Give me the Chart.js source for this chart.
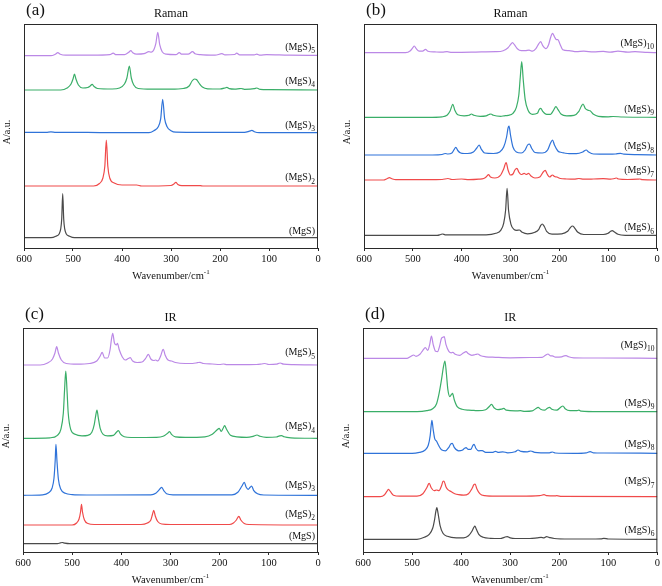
<!DOCTYPE html>
<html>
<head>
<meta charset="utf-8">
<script src="https://cdn.jsdelivr.net/npm/chart.js@4.4.1/dist/chart.umd.min.js"></script>
<style>
  body { margin: 0; background: #fff; width: 662px; height: 586px; position: relative; overflow: hidden; }
  canvas { position: absolute; }
</style>
</head>
<body>
<canvas id="pa" width="331" height="293" style="left:0;top:0"></canvas>
<canvas id="pb" width="331" height="293" style="left:331px;top:0"></canvas>
<canvas id="pc" width="331" height="293" style="left:0;top:293px"></canvas>
<canvas id="pd" width="331" height="293" style="left:331px;top:293px"></canvas>
<script>
// x ticks (wavenumber, cm-1) and cluster sizes
const xTicks = [600, 500, 400, 300, 200, 100, 0];
const clusterSizes = [1, 2, 3, 4, 5, 6, 7, 8, 9, 10];

// vertical stacking offset of each spectrum (a.u.), index = size - 1
const ramanOffsets = [10.3, 62, 115.3, 158, 192.3, 12.7, 68, 93, 130.7, 195.3];
const irOffsets = [8.3, 27, 56.7, 113.7, 187, 12.7, 55.3, 98.7, 140.3, 193.7];

// Raman spectra: [wavenumber, intensity]
const ramanMgS1 = [[600,0],[545,0],[535,1.5],[528,4],[525,9],[523,19],[521,44],[519,19],[517,9],[514,4],[507,1.5],[497,0],[0,0]];
const ramanMgS2 = [[600,0],[458,0],[446,2.5],[439,8],[435,20],[432,46],[429,20],[425,8],[416,3],[400,1],[370,1],[360,0],[300,0.5],[294,2],[290,3.7],[286,1.5],[278,0.3],[240,0.3],[235,0],[0,0]];
const ramanMgS3 = [[600,0.3],[555,0.3],[545,0.8],[535,0.3],[470,0.3],[420,0],[345,0],[335,2],[326,6],[321,14],[317,33.4],[313,14],[308,6],[300,2],[290,0.5],[240,0.3],[150,0.3],[140,1.5],[135,2.3],[130,1],[120,0],[0,0]];
const ramanMgS4 = [[600,0],[525,0],[512,2],[504,6],[500,11],[497,16],[494,11],[489,5],[480,2],[470,2.5],[465,4],[461,5.7],[457,3.5],[450,1.5],[420,1],[405,2],[395,6],[390,12],[385,24],[381,12],[376,5],[367,1.5],[340,0.8],[300,0.8],[275,1.5],[263,4],[257,9],[252,11],[248,10.5],[243,7],[236,3],[225,1.2],[200,1],[190,2],[186,2.7],[181,1.3],[170,0.8],[160,1.4],[157,1.5],[150,0.7],[130,1.3],[125,2],[118,0.6],[100,0.3],[0,0]];
const ramanMgS5 = [[600,0],[545,0],[536,1.5],[531,3],[526,1.5],[515,0.5],[460,0.5],[425,1],[418,2.5],[412,1],[395,1],[386,3.5],[382,5],[378,3],[370,1.5],[355,2],[345,4],[340,3.5],[335,6],[331,12],[327,23.4],[323,11],[318,4],[310,1.5],[290,1],[283,3],[278,1.5],[265,1.5],[256,4],[251,2],[240,1],[210,0.5],[196,2],[190,0.8],[170,1.2],[166,2.5],[160,0.8],[130,0.8],[125,1.5],[118,0.5],[105,1],[60,0.5],[0,0.3]];
const ramanMgS6 = [[600,0],[450,0],[443,0.8],[439,1.3],[434,0.5],[350,0.5],[330,2],[320,5],[314,12],[310,25],[307,47],[304,25],[299,11],[293,6],[287,5],[282,5.3],[276,3],[265,1.5],[250,3],[242,6],[238,10],[235,11.3],[231,9],[226,4],[215,1.2],[195,1.5],[183,4],[177,8],[173,9.3],[169,7.5],[162,3],[150,0.8],[110,0.8],[100,2],[95,4],[91.5,4.7],[88,3.5],[80,1],[65,0],[0,0]];
const ramanMgS7 = [[600,0],[560,0],[553,1.3],[548,2.3],[543,1.3],[535,0.3],[470,0.3],[440,0.5],[428,1.5],[420,0.5],[400,1],[385,0.3],[365,0.8],[355,1.5],[349,3.5],[345,5.3],[341,3],[332,2],[320,5],[314,11],[309,17.3],[305,10],[300,5],[295,6],[291,10],[287,11.7],[283,8],[278,5.5],[272,6.7],[268,5.5],[263,6.7],[258,4],[250,2],[240,3],[233,8],[229,9.7],[225,6],[220,3],[214,5],[210,3.5],[205,3],[198,1.5],[185,1],[170,0.8],[160,1.5],[150,0.8],[130,1],[110,1.3],[95,0.8],[87,1.5],[83,2],[79,1],[60,0.5],[40,0.8],[35,1],[30,0.3],[0,0]];
const ramanMgS8 = [[600,0],[460,0],[440,0.5],[434,1.5],[428,1],[420,2],[416,5],[412,7.7],[408,4.5],[402,2],[395,1.5],[388,1.5],[376,3],[369,7],[364,10],[360,6],[353,2],[335,1.5],[322,3],[314,8],[308,18],[305,27],[303,29],[300,20],[295,8],[288,3],[278,2],[270,5],[265,10],[261,11],[257,7],[250,2.5],[235,2],[224,5],[218,12],[214,15],[210,10],[203,4],[195,2.5],[190,2],[180,1.3],[165,1.3],[152,3],[145,5],[140,3],[130,1],[100,0.8],[85,1],[75,1.7],[68,0.8],[40,0.3],[0,0]];
const ramanMgS9 = [[600,0],[470,0],[440,0.5],[430,2],[424,6],[418,13],[414,7],[408,2.5],[395,1.5],[385,2],[380,3.3],[375,2],[362,1],[350,1.5],[344,2.8],[340,3.3],[335,2],[320,1],[313,1.5],[305,2],[295,4],[288,10],[283,22],[280,40],[277,55.6],[274,38],[270,18],[264,7],[255,3],[245,4],[241,8],[238,9],[234,6],[226,3],[218,3],[212,7],[207,10.7],[203,8],[196,3],[185,1.5],[170,2],[160,6],[155,11],[151.5,13.3],[147,9],[141,7],[137,6.5],[130,3],[120,1],[100,0.5],[90,0.8],[70,0.3],[0,0]];
const ramanMgS10 = [[600,0],[515,0],[505,2],[500,5],[497,6.7],[493,4],[487,1.5],[480,1.5],[474,3.3],[469,1.5],[455,0.8],[440,0.5],[430,1],[420,0.3],[380,0.5],[360,0.8],[330,1],[315,2],[305,5],[300,8],[296,10],[292,8],[286,4],[278,2],[270,2],[262,2.5],[255,1.5],[248,4],[242,9],[238,11],[234,7],[228,4],[222,8],[218,15],[214,19.3],[210,16],[206,13],[203,13],[199,9],[193,3],[180,2],[165,1],[150,1.5],[130,0.8],[110,1.3],[95,0.5],[80,1.5],[60,0.5],[45,1],[20,0.3],[0,0]];

// IR spectra: [wavenumber, absorbance]
const irMgS1 = [[600,0],[530,0],[524,0.8],[520,1.2],[515,0.5],[505,0],[0,0]];
const irMgS2 = [[600,0],[500,0],[491,2],[486,6],[483,13],[481,20.7],[479,13],[475,5],[468,1.5],[455,0.5],[360,0.5],[347,2],[340,5],[337,10],[334,14.7],[331,9],[326,3.5],[318,1],[300,0.5],[180,0.5],[172,2],[166,5],[161,8.7],[157,5],[150,1.5],[140,0.5],[0,0]];
const irMgS3 = [[600,0],[560,0.5],[548,2.5],[541,7],[537,17],[534.5,35],[533,51],[531,35],[528,16],[523,6],[514,2],[500,0.7],[470,0.3],[340,0.5],[330,2],[324,5],[318,8],[314,5],[308,1.5],[295,0.5],[175,0.5],[163,3],[155,9],[150,13],[146,8],[142,6],[138,8],[135,9.3],[131,5],[123,1.5],[110,0.3],[0,0]];
const irMgS4 = [[600,0],[545,0.5],[530,3],[523,9],[518,25],[515.5,48],[513,67.3],[510.5,48],[508,25],[503,9],[494,4],[480,2.5],[468,3],[460,6],[455,14],[452,23],[449.5,28.3],[447,21],[443,10],[437,4],[428,2.5],[416,3],[410,6],[406,7.7],[402,4.5],[394,1.5],[380,0.8],[330,1],[315,2],[306,5],[302,6.7],[298,4],[290,1.5],[270,1],[230,1.5],[215,4],[205,8.5],[201,10],[197,7],[193,10],[190,12.7],[186,9],[178,3],[165,1.5],[145,1],[132,2],[124,3.3],[118,2],[105,1],[85,1.3],[78,2.5],[74,2.7],[69,1.5],[55,0.5],[0,0]];
const irMgS5 = [[600,0],[565,0],[550,2],[540,6],[535,12],[531.5,18.3],[528,12],[522,5],[512,1.5],[490,0.8],[465,1.5],[450,4],[443,9],[439,12.7],[434,7],[428,7],[423,15],[420,26],[417.5,31.7],[414,22],[410,20],[408,21.7],[404,15],[398,8],[392,5],[386,6.5],[382,7.3],[377,4],[368,2.5],[358,3],[350,7],[345,10.7],[340,6],[334,4.5],[330,5],[326,4],[320,9],[316,15],[314.5,15.7],[311,10],[305,5],[298,4],[290,2.5],[270,1.5],[255,1.5],[245,2.3],[240,2.7],[233,1.5],[215,1],[200,0.5],[192,1],[185,0.3],[160,0.3],[125,0.5],[115,1],[108,1.5],[100,0.5],[85,0.8],[77,2],[70,0.8],[50,0.3],[0,0]];
const irMgS6 = [[600,0],[490,0],[475,2],[465,5],[458,11],[454,20],[451.5,28],[449.5,31.7],[447,26],[443,14],[437,6],[428,3],[410,1.5],[395,1.5],[385,3.5],[378,8],[374,12],[372,13.3],[369,10],[364,5],[355,2],[340,1],[320,0.8],[312,2],[306,2.7],[300,1.5],[290,0.8],[260,0.8],[245,1.5],[237,2],[231,1.5],[226,2.7],[221,2],[210,0.8],[180,0.3],[140,0.3],[115,0.5],[109,1],[100,0.3],[0,0]];
const irMgS7 = [[600,0],[565,0],[556,2],[551,5.5],[548,7.3],[544,5],[538,1.5],[525,0.5],[490,0.5],[478,3],[470,9],[466,13],[465,13.3],[461,9],[455,6],[450,6.7],[445,6],[440,11],[437,15.3],[435,15.7],[431,10],[427,7],[420,5],[413,3],[405,2],[395,1.5],[385,3],[378,8],[374,12],[371.5,12.7],[368,8],[362,3],[352,1],[330,0.5],[280,0.5],[240,1],[231,2],[225,1],[210,0.8],[205,1],[195,0.3],[0,0]];
const irMgS8 = [[600,0],[500,0],[485,1],[474,3],[467,8],[463,18],[461,28],[459.5,33],[457,24],[454,15],[450,12],[446,8],[440,3.5],[432,2.5],[425,6],[421,9.5],[418,10],[414,6],[405,2.5],[398,3],[393,5],[390,5.7],[386,4],[380,4],[376,8],[373.5,9],[370,5],[364,2.5],[357,2.7],[350,1],[335,1],[330,2],[325,1],[315,1.5],[305,0.5],[290,1.5],[284,3.3],[278,2],[265,1.5],[258,2.3],[250,1],[220,0.5],[214,1.3],[208,0.3],[170,0],[145,0.5],[137,1.7],[130,0.5],[110,0.3],[0,0]];
const irMgS9 = [[600,0],[490,0],[470,1],[458,3],[450,8],[445,18],[440,32],[436,45],[433,50.7],[430,38],[427,22],[423,15],[420,17],[417.5,18.3],[414,12],[408,5],[398,2.5],[385,1.5],[374,1.3],[365,1],[350,2],[342,5.5],[338,7.3],[333,4],[325,2],[318,2.5],[313,3.3],[308,1.5],[290,0.8],[279,1],[270,0.3],[255,0.8],[248,3],[243,4.3],[238,2.5],[230,1.5],[224,3.5],[220,4.3],[215,2.5],[205,1.5],[197,4.5],[192.5,5.7],[188,3],[178,1],[165,1],[160,1.5],[155,0.5],[120,0],[0,0]];
const irMgS10 = [[600,0],[510,0],[502,2],[497,3.3],[492,2],[484,4],[478,8],[473,10.7],[468,8],[464,14],[460.5,22.3],[457,14],[452,7],[448,6.7],[444,12],[440,20],[437,21],[434.5,21.7],[431,14],[425,7],[420,5.5],[417,6],[412,4],[403,3],[395,5.5],[390,6.7],[385,4.5],[378,3],[371,3.8],[366,4.3],[360,2.5],[350,1.5],[330,1],[300,0.5],[260,0.8],[235,1],[228,3],[223,4.3],[218,2.5],[214,2.5],[208,1.2],[195,1.5],[190,2.5],[186,2.7],[181,1.5],[170,0.5],[120,0.3],[0,0]];

const ramanSpectra = [ramanMgS1, ramanMgS2, ramanMgS3, ramanMgS4, ramanMgS5, ramanMgS6, ramanMgS7, ramanMgS8, ramanMgS9, ramanMgS10];
const irSpectra = [irMgS1, irMgS2, irMgS3, irMgS4, irMgS5, irMgS6, irMgS7, irMgS8, irMgS9, irMgS10];

const lineColors = ["#4a4a4a", "#f04a4a", "#2f73d9", "#3aae68", "#bb88e6"];
const serif = "'Liberation Serif', 'Times New Roman', serif";

const panels = [
  { id: "pa", letter: "(a)", title: "Raman", sizes: clusterSizes.slice(0, 5), spectra: ramanSpectra, offsets: ramanOffsets,
    lifts: [6, 8.3, 7.7, 9, 8.7], pad: { left: 24, right: 13, top: 24 }, axisH: 45 },
  { id: "pb", letter: "(b)", title: "Raman", sizes: clusterSizes.slice(5), spectra: ramanSpectra, offsets: ramanOffsets,
    lifts: [7.6, 9.3, 8.3, 8.3, 9.7], pad: { left: 33, right: 5, top: 24 }, axisH: 45 },
  { id: "pc", letter: "(c)", title: "IR", sizes: clusterSizes.slice(0, 5), spectra: irSpectra, offsets: irOffsets,
    lifts: [7, 10.7, 10.3, 11.6, 12.3], pad: { left: 23, right: 13, top: 35 }, axisH: 34 },
  { id: "pd", letter: "(d)", title: "IR", sizes: clusterSizes.slice(5), spectra: irSpectra, offsets: irOffsets,
    lifts: [9.3, 15, 9.3, 8.4, 13.3], pad: { left: 32, right: 4, top: 35 }, axisH: 34 },
];

function withOffset(points, off) {
  return points.map(p => ({ x: p[0], y: p[1] + off }));
}

function makePanel(p) {
  const datasets = p.sizes.map((n, i) => ({
    label: "(MgS)" + n,
    data: withOffset(p.spectra[n - 1], p.offsets[n - 1]),
    borderColor: lineColors[i],
    borderWidth: 1.2,
    pointRadius: 0,
    cubicInterpolationMode: "monotone",
  }));

  const decor = {
    id: "decor",
    afterDraw(chart) {
      const { ctx, chartArea: a, scales } = chart;
      ctx.save();
      // frame
      ctx.strokeStyle = "#2a2a2a";
      ctx.lineWidth = 1;
      ctx.strokeRect(a.left + 0.5, a.top + 0.5, a.right - a.left - 1, a.bottom - a.top);
      ctx.fillStyle = "#111";
      // panel letter
      ctx.font = "17px " + serif;
      ctx.textAlign = "left";
      ctx.textBaseline = "middle";
      ctx.fillText(p.letter, a.left + 2, a.top - 13);
      // title
      ctx.font = "12px " + serif;
      ctx.textAlign = "center";
      ctx.fillText(p.title, (a.left + a.right) / 2, a.top - 10);
      // x title with superscript
      const cx = (a.left + a.right) / 2, ty = a.bottom + 28;
      ctx.font = "10.5px " + serif;
      const mainW = ctx.measureText("Wavenumber/cm").width;
      ctx.font = "7px " + serif;
      const supW = ctx.measureText("-1").width;
      const x0 = cx - (mainW + supW) / 2;
      ctx.textAlign = "left";
      ctx.font = "10.5px " + serif;
      ctx.fillText("Wavenumber/cm", x0, ty);
      ctx.font = "7px " + serif;
      ctx.fillText("-1", x0 + mainW, ty - 4);
      // y title
      ctx.save();
      ctx.translate(a.left - 17, (a.top + a.bottom) / 2 - 4);
      ctx.rotate(-Math.PI / 2);
      ctx.font = "10px " + serif;
      ctx.textAlign = "center";
      ctx.fillText("A/a.u.", 0, 0);
      ctx.restore();
      // spectrum labels
      p.sizes.forEach((n, i) => {
        const y = scales.y.getPixelForValue(p.offsets[n - 1] + p.lifts[i]);
        const right = a.right - 3;
        const sub = n > 1 ? String(n) : "";
        ctx.font = "7.5px " + serif;
        const subW = sub ? ctx.measureText(sub).width : 0;
        ctx.textAlign = "left";
        if (sub) ctx.fillText(sub, right - subW, y + 4);
        ctx.font = "10px " + serif;
        ctx.textAlign = "right";
        ctx.fillText("(MgS)", right - subW, y);
      });
      ctx.restore();
    },
  };

  new Chart(document.getElementById(p.id).getContext("2d"), {
    type: "line",
    data: { datasets },
    options: {
      responsive: false,
      animation: false,
      layout: { padding: { left: p.pad.left, right: p.pad.right, top: p.pad.top, bottom: 0 } },
      plugins: { legend: { display: false }, tooltip: { enabled: false } },
      scales: {
        x: {
          type: "linear",
          reverse: true,
          min: 0,
          max: 600,
          afterBuildTicks: s => { s.ticks = xTicks.map(v => ({ value: v })); },
          afterFit: s => { s.height = p.axisH; },
          grid: { drawOnChartArea: false, drawTicks: true, tickLength: 3, color: "#2a2a2a" },
          border: { display: true, color: "#2a2a2a" },
          ticks: { padding: 2, color: "#111", font: { family: serif, size: 10.5 }, maxRotation: 0 },
        },
        y: { display: false, min: 0, max: 224 },
      },
    },
    plugins: [decor],
  });
}

panels.forEach(makePanel);
</script>
</body>
</html>
